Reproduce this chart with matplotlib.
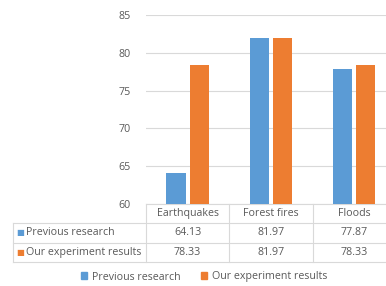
import numpy as np
import matplotlib.pyplot as plt
from matplotlib.transforms import blended_transform_factory
from matplotlib.patches import Rectangle

categories = ['Earthquakes', 'Forest fires', 'Floods']
series_names = ['Previous research', 'Our experiment results']
previous = [64.13, 81.97, 77.87]
ours = [78.33, 81.97, 78.33]
colors = ['#5b9bd5', '#ed7d31']
yticks = [60, 65, 70, 75, 80, 85]

plt.rcParams['font.family'] = ['Open Sans', 'DejaVu Sans']
W, H = 386, 286
fig = plt.figure(figsize=(W / 100, H / 100), dpi=100)
fs = 7.7

# axes placed in pixel terms (right side is cut off like the original)
left, right, top, bottom = 146, 395.75, 15, 204
ax = fig.add_axes([left / W, 1 - bottom / H, (right - left) / W, (bottom - top) / H])

x = np.arange(len(categories))
bw = 0.23
ax.bar(x - 0.14, previous, bw, color=colors[0], zorder=3)
ax.bar(x + 0.14, ours, bw, color=colors[1], zorder=3)

ax.set_xlim(-0.5, len(categories) - 0.5)
ax.set_ylim(60, 85)
ax.set_yticks(yticks)
ax.set_yticklabels([str(v) for v in yticks], color='#595959', fontsize=fs)
ax.tick_params(axis='y', length=0, pad=11)
ax.set_xticks([])
ax.grid(axis='y', color='#d9d9d9', lw=0.8, zorder=0)
for s in ['top', 'right', 'left', 'bottom']:
    ax.spines[s].set_visible(False)

# data table below the plot
tr = blended_transform_factory(ax.transData, ax.transAxes)
rh = 19.3 / (bottom - top)
lc = '#d9d9d9'
label_left = -0.5 - (left - 13) / 83.25
kw = dict(transform=tr, clip_on=False, color=lc, lw=0.8)
ax.plot([-0.5, 2.5], [0, 0], **kw)
for r in range(1, 4):
    ax.plot([label_left, 2.5], [-r * rh, -r * rh], **kw)
for xv in [-0.5, 0.5, 1.5]:
    ax.plot([xv, xv], [0, -3 * rh], **kw)
ax.plot([label_left, label_left], [-rh, -3 * rh], **kw)

tc = '#595959'
for i, c in enumerate(categories):
    ax.text(i, -0.5 * rh, c, transform=tr, ha='center', va='center', fontsize=fs, color=tc)
for r, (name, vals) in enumerate(zip(series_names, [previous, ours])):
    yy = -(r + 1.5) * rh
    ax.text(label_left + 0.04, yy, '■', transform=tr, ha='left', va='center',
            fontsize=6, color=colors[r], family='DejaVu Sans')
    ax.text(label_left + 0.16, yy, name, transform=tr, ha='left', va='center', fontsize=fs, color=tc)
    for i, v in enumerate(vals):
        ax.text(i, yy, f'{v:.2f}', transform=tr, ha='center', va='center', fontsize=fs, color=tc)

# legend at bottom
handles = [Rectangle((0, 0), 1, 1, color=c) for c in colors]
fig.legend(handles, series_names, loc='center', bbox_to_anchor=(204 / W, 1 - 277 / H),
           ncol=2, frameon=False, fontsize=fs, handlelength=0.6, handleheight=0.6,
           handletextpad=0.45, columnspacing=1.9, labelcolor=tc)

fig.savefig('out.png', dpi=100)
